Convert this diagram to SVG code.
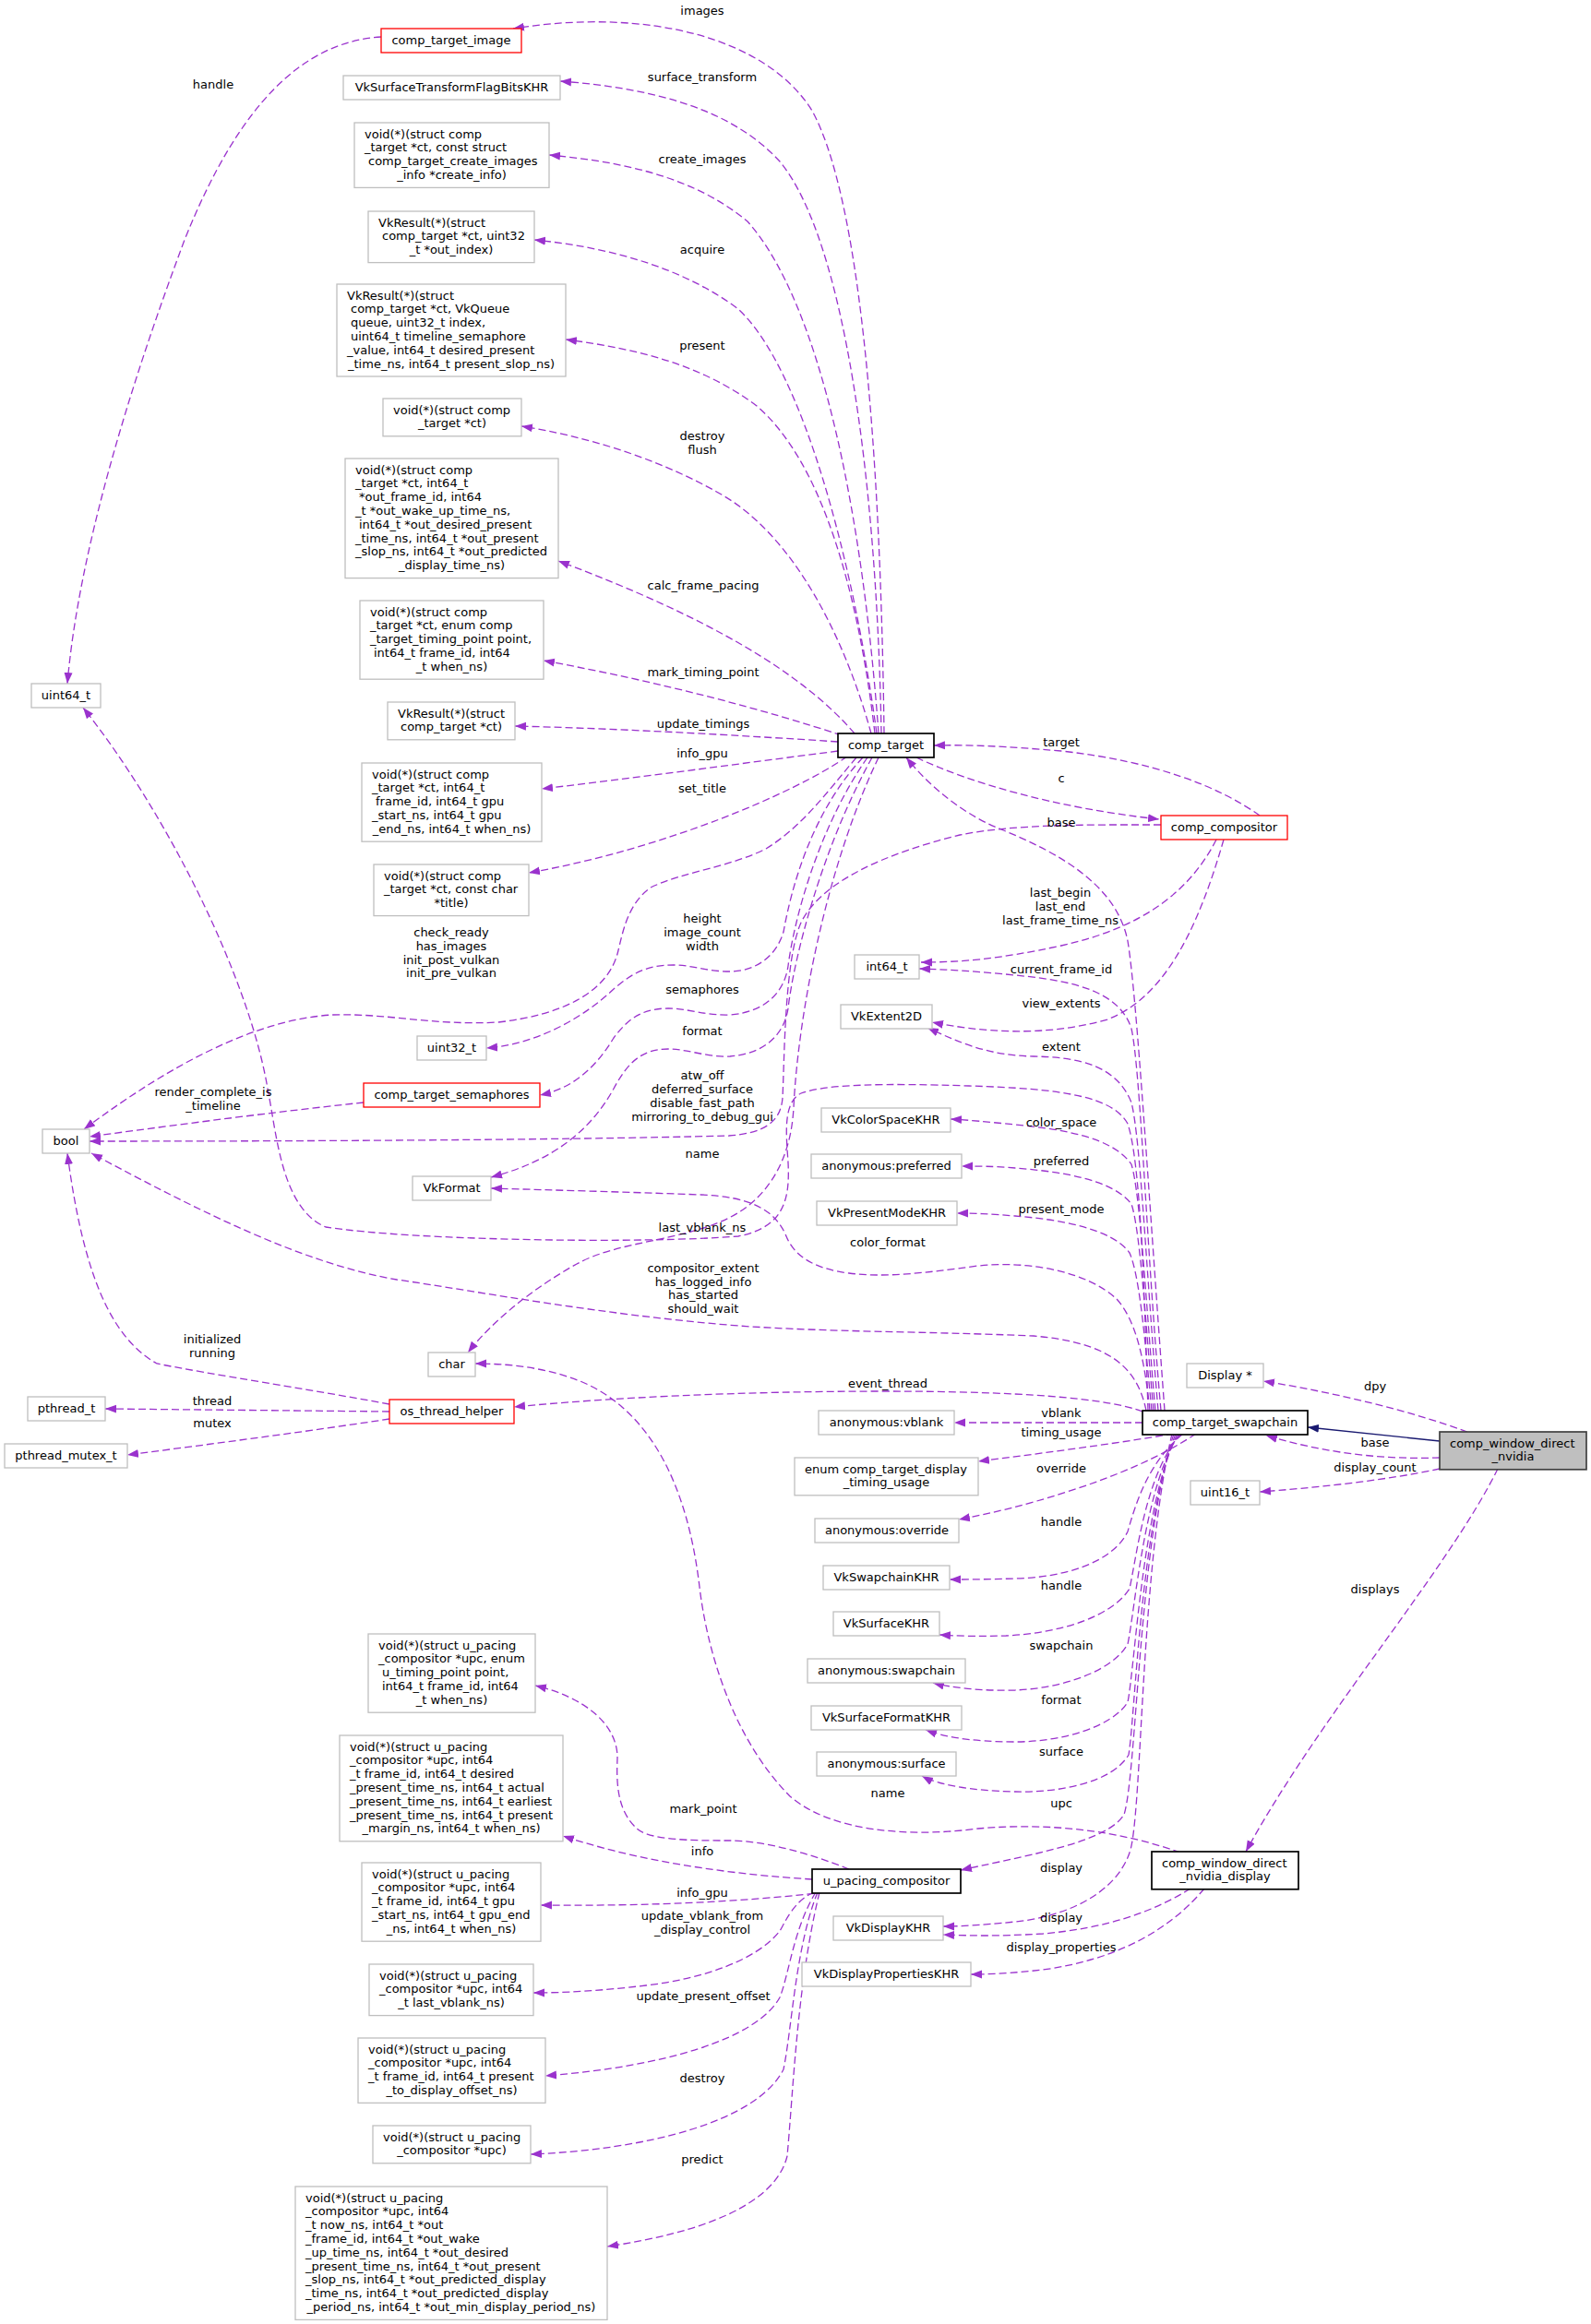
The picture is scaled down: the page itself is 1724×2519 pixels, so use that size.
<svg xmlns="http://www.w3.org/2000/svg" width="1724" height="2519" viewBox="0 0 1724 2519">
<style>
text{font-family:"DejaVu Sans",sans-serif;font-size:13px;fill:#000}
.m{text-anchor:middle}
.n rect{fill:#fff;stroke:#bfbfbf;stroke-width:1.3}
.r rect{fill:#fff;stroke:#ff0000;stroke-width:1.3}
.k rect{fill:#fff;stroke:#000;stroke-width:1.7}
.g rect{fill:#bfbfbf;stroke:#404040;stroke-width:1.7}
#edges path{fill:none;stroke:#9a32cd;stroke-width:1.3;stroke-dasharray:8,4;marker-end:url(#ah)}
#edges path.inh{stroke:#191970;stroke-dasharray:none;marker-end:url(#ahn)}
</style>
<defs>
<marker id="ah" markerWidth="13" markerHeight="10" refX="12" refY="5" orient="auto" markerUnits="userSpaceOnUse"><path d="M0,0.5 L12,5 L0,9.5 z" fill="#9a32cd"/></marker>
<marker id="ahn" markerWidth="13" markerHeight="10" refX="12" refY="5" orient="auto" markerUnits="userSpaceOnUse"><path d="M0,0.5 L12,5 L0,9.5 z" fill="#191970"/></marker>
</defs>
<rect x="0" y="0" width="1724" height="2519" fill="#fff"/>
<g id="edges">
<path d="M958,795 C955,560 940,230 880,120 C830,40 700,8 556,31"/>
<path d="M955,795 C950,520 915,260 845,175 C790,115 700,95 607,88"/>
<path d="M952,795 C935,560 890,330 810,240 C750,190 670,175 595,168"/>
<path d="M950,795 C925,610 870,400 800,335 C740,290 660,268 579,260"/>
<path d="M948,795 C930,640 890,500 820,440 C760,395 690,378 613,368"/>
<path d="M944,795 C915,690 860,580 780,535 C710,495 630,472 565,462"/>
<path d="M926,795 C870,730 770,670 605,608"/>
<path d="M912,797 C830,770 720,740 589,716"/>
<path d="M908,804 C800,797 680,790 558,787"/>
<path d="M908,814 C800,828 690,843 587,855"/>
<path d="M918,820 C860,860 720,920 573,946"/>
<path d="M928,821 C895,860 870,895 830,920 C790,940 740,945 705,962 C680,980 675,1010 670,1030 C660,1075 610,1100 540,1108 C470,1112 420,1098 360,1100 C280,1105 190,1150 91,1224"/>
<path d="M935,821 C880,880 858,960 849,1010 C840,1040 815,1053 791,1053 C765,1053 750,1046 730,1046 C700,1046 685,1055 665,1072 C630,1105 580,1132 527,1136"/>
<path d="M940,821 C885,900 860,1000 854,1047 C850,1075 830,1097 791,1100 C765,1101 745,1093 724,1093 C695,1093 680,1105 665,1125 C645,1158 620,1180 585,1187"/>
<path d="M945,821 C890,920 860,1040 854,1093 C850,1120 830,1142 791,1145 C765,1146 745,1137 724,1137 C695,1137 680,1152 665,1180 C640,1225 600,1258 532,1276"/>
<path d="M952,821 C895,940 865,1100 860,1200 C857,1260 830,1300 790,1320 C740,1345 670,1345 625,1370 C580,1395 535,1430 507,1466"/>
<path d="M1365,884 C1320,852 1250,825 1150,814 C1090,809 1050,807 1012,808"/>
<path d="M993,821 C1050,848 1140,875 1256,888"/>
<path d="M1258,894 C1180,894 1100,893 1040,905 C960,925 890,955 868,1000 C850,1040 850,1150 848,1190 C846,1215 830,1228 790,1231 C600,1236 300,1237 97,1237"/>
<path d="M1262,1529 C1245,1300 1232,1080 1222,1020 C1210,960 1150,925 1080,897 C1040,880 1005,850 982,821"/>
<path d="M1318,910 C1290,965 1240,1005 1150,1025 C1080,1040 1040,1043 998,1043"/>
<path d="M1326,910 C1300,1000 1265,1080 1200,1105 C1130,1125 1060,1118 1010,1108"/>
<path d="M1258,1529 C1242,1350 1236,1160 1226,1115 C1212,1070 1150,1062 1100,1057 C1060,1053 1030,1051 996,1050"/>
<path d="M1255,1529 C1242,1380 1236,1235 1226,1195 C1210,1155 1170,1146 1120,1145 C1070,1144 1040,1130 1005,1114"/>
<path d="M1252,1529 C1242,1420 1236,1295 1226,1262 C1205,1232 1150,1224 1100,1219 C1070,1216 1050,1214 1030,1213"/>
<path d="M1250,1529 C1242,1445 1236,1335 1226,1305 C1205,1278 1150,1270 1100,1266 C1075,1264 1060,1264 1042,1264"/>
<path d="M1248,1529 C1242,1470 1236,1385 1224,1358 C1205,1332 1150,1322 1100,1318 C1075,1316 1060,1315 1037,1315"/>
<path d="M1246,1529 C1240,1470 1230,1430 1210,1408 C1180,1380 1120,1366 1060,1372 C1000,1380 960,1385 920,1380 C880,1375 860,1360 852,1340 C840,1310 810,1297 760,1295 C680,1292 600,1290 532,1288"/>
<path d="M1244,1529 C1240,1400 1236,1260 1222,1218 C1205,1188 1150,1180 1050,1177 C960,1174 895,1175 868,1185 C848,1195 852,1230 854,1260 C856,1300 850,1330 800,1340 C700,1348 450,1345 353,1330 C305,1310 300,1230 290,1180 C270,1060 180,880 90,767"/>
<path d="M1242,1529 C1232,1480 1200,1455 1120,1448 C1000,1443 900,1444 800,1437 C650,1425 520,1400 430,1387 C330,1370 220,1315 99,1250"/>
<path d="M1238,1530 C1200,1515 1100,1508 960,1508 C800,1508 660,1515 557,1525"/>
<path d="M1238,1542 L1034,1542"/>
<path d="M1272,1554 C1200,1566 1130,1575 1060,1584"/>
<path d="M1296,1554 C1260,1578 1210,1600 1156,1617 C1110,1632 1075,1640 1039,1647"/>
<path d="M1282,1554 C1245,1585 1232,1625 1222,1660 C1205,1695 1150,1710 1100,1711 C1065,1712 1045,1712 1029,1712"/>
<path d="M1280,1554 C1242,1595 1232,1685 1224,1722 C1205,1752 1150,1770 1090,1773 C1055,1774 1035,1773 1018,1772"/>
<path d="M1278,1554 C1240,1610 1230,1745 1222,1782 C1205,1812 1150,1830 1100,1832 C1060,1833 1030,1829 1011,1824"/>
<path d="M1276,1554 C1238,1630 1230,1805 1222,1845 C1205,1872 1150,1888 1100,1888 C1050,1888 1022,1882 1003,1875"/>
<path d="M1274,1554 C1236,1650 1230,1862 1223,1902 C1205,1932 1150,1943 1100,1942 C1050,1941 1015,1934 999,1925"/>
<path d="M1272,1554 C1234,1670 1232,1922 1218,1967 C1200,1995 1130,2008 1041,2027"/>
<path d="M1270,1554 C1236,1700 1238,1955 1225,2005 C1210,2055 1150,2078 1100,2083 C1060,2087 1040,2088 1022,2088"/>
<path d="M1290,2047 C1250,2072 1200,2090 1130,2096 C1080,2099 1050,2098 1022,2097"/>
<path d="M1305,2047 C1265,2095 1205,2125 1130,2135 C1095,2139 1070,2140 1052,2140"/>
<path d="M1279,2008 C1215,1985 1140,1975 1060,1982 C984,1992 900,1985 856,1947 C790,1880 765,1780 758,1720 C745,1610 705,1530 631,1498 C590,1481 545,1478 515,1478"/>
<path d="M920,2026 C880,2010 830,1995 791,1995 C750,1995 700,1995 688,1980 C668,1960 668,1930 669,1905 C669,1870 635,1840 580,1827"/>
<path d="M880,2037 C800,2032 700,2020 610,1990"/>
<path d="M894,2051 C800,2062 700,2066 586,2065"/>
<path d="M882,2051 C860,2060 850,2085 845,2093 C820,2125 760,2145 700,2152 C650,2158 610,2160 578,2160"/>
<path d="M884,2051 C860,2090 855,2140 845,2165 C820,2210 720,2240 591,2250"/>
<path d="M886,2051 C862,2110 858,2200 849,2243 C820,2300 700,2330 575,2335"/>
<path d="M888,2051 C864,2150 860,2260 853,2337 C840,2390 760,2420 658,2435"/>
<path d="M422,1530 L114,1527"/>
<path d="M422,1538 C330,1552 230,1565 138,1577"/>
<path d="M422,1522 C330,1505 230,1490 170,1478 C120,1450 90,1380 73,1250"/>
<path d="M394,1195 C300,1205 200,1218 97,1232"/>
<path d="M413,40 C330,45 260,110 200,260 C140,420 85,600 73,741"/>
<path d="M1590,1552 C1530,1530 1450,1510 1369,1497"/>
<path d="M1560,1580 C1500,1582 1440,1576 1372,1556"/>
<path d="M1560,1592 C1500,1605 1420,1613 1365,1617"/>
<path d="M1623,1592 C1570,1700 1430,1860 1350,2007"/>
<path class="inh" d="M1560,1562 L1417,1547"/>
</g>
<g id="edge-labels">
<text class="m" x="231" y="96">handle</text>
<text class="m" x="761" y="16">images</text>
<text class="m" x="761" y="88">surface_transform</text>
<text class="m" x="761" y="177">create_images</text>
<text class="m" x="761" y="275">acquire</text>
<text class="m" x="761" y="379">present</text>
<text class="m" x="761" y="477">destroy</text>
<text class="m" x="761" y="492">flush</text>
<text class="m" x="762" y="639">calc_frame_pacing</text>
<text class="m" x="762" y="733">mark_timing_point</text>
<text class="m" x="762" y="789">update_timings</text>
<text class="m" x="761" y="821">info_gpu</text>
<text class="m" x="761" y="859">set_title</text>
<text class="m" x="1150" y="809">target</text>
<text class="m" x="1150" y="848">c</text>
<text class="m" x="1150" y="896">base</text>
<text class="m" x="1149" y="972">last_begin</text>
<text class="m" x="1149" y="987">last_end</text>
<text class="m" x="1149" y="1002">last_frame_time_ns</text>
<text class="m" x="761" y="1000">height</text>
<text class="m" x="761" y="1015">image_count</text>
<text class="m" x="761" y="1030">width</text>
<text class="m" x="489" y="1015">check_ready</text>
<text class="m" x="489" y="1030">has_images</text>
<text class="m" x="489" y="1045">init_post_vulkan</text>
<text class="m" x="489" y="1059">init_pre_vulkan</text>
<text class="m" x="1150" y="1055">current_frame_id</text>
<text class="m" x="761" y="1077">semaphores</text>
<text class="m" x="1150" y="1092">view_extents</text>
<text class="m" x="761" y="1122">format</text>
<text class="m" x="1150" y="1139">extent</text>
<text class="m" x="761" y="1170">atw_off</text>
<text class="m" x="761" y="1185">deferred_surface</text>
<text class="m" x="761" y="1200">disable_fast_path</text>
<text class="m" x="761" y="1215">mirroring_to_debug_gui</text>
<text class="m" x="231" y="1188">render_complete_is</text>
<text class="m" x="231" y="1203">_timeline</text>
<text class="m" x="1150" y="1221">color_space</text>
<text class="m" x="761" y="1255">name</text>
<text class="m" x="1150" y="1263">preferred</text>
<text class="m" x="1150" y="1315">present_mode</text>
<text class="m" x="761" y="1335">last_vblank_ns</text>
<text class="m" x="962" y="1351">color_format</text>
<text class="m" x="762" y="1379">compositor_extent</text>
<text class="m" x="762" y="1394">has_logged_info</text>
<text class="m" x="762" y="1408">has_started</text>
<text class="m" x="762" y="1423">should_wait</text>
<text class="m" x="230" y="1456">initialized</text>
<text class="m" x="230" y="1471">running</text>
<text class="m" x="962" y="1504">event_thread</text>
<text class="m" x="1490" y="1507">dpy</text>
<text class="m" x="230" y="1523">thread</text>
<text class="m" x="1150" y="1536">vblank</text>
<text class="m" x="230" y="1547">mutex</text>
<text class="m" x="1150" y="1557">timing_usage</text>
<text class="m" x="1490" y="1568">base</text>
<text class="m" x="1490" y="1595">display_count</text>
<text class="m" x="1150" y="1596">override</text>
<text class="m" x="1150" y="1654">handle</text>
<text class="m" x="1150" y="1723">handle</text>
<text class="m" x="1490" y="1727">displays</text>
<text class="m" x="1150" y="1788">swapchain</text>
<text class="m" x="1150" y="1847">format</text>
<text class="m" x="1150" y="1903">surface</text>
<text class="m" x="962" y="1948">name</text>
<text class="m" x="1150" y="1959">upc</text>
<text class="m" x="762" y="1965">mark_point</text>
<text class="m" x="761" y="2011">info</text>
<text class="m" x="1150" y="2029">display</text>
<text class="m" x="761" y="2056">info_gpu</text>
<text class="m" x="761" y="2081">update_vblank_from</text>
<text class="m" x="761" y="2096">_display_control</text>
<text class="m" x="1150" y="2083">display</text>
<text class="m" x="1150" y="2115">display_properties</text>
<text class="m" x="762" y="2168">update_present_offset</text>
<text class="m" x="761" y="2257">destroy</text>
<text class="m" x="761" y="2345">predict</text>
</g>
<g id="n_comp_target_image" class="r"><rect x="413" y="31" width="152" height="26"/><text class="m" x="489" y="47.5">comp_target_image</text></g>
<g id="n_VkSurfaceTransformFlagBitsKHR" class="n"><rect x="372" y="82" width="235" height="26"/><text class="m" x="489.5" y="98.5">VkSurfaceTransformFlagBitsKHR</text></g>
<g id="n_fp_create_images" class="n"><rect x="384" y="133" width="211" height="70.4"/><text x="395" y="149.5">void(*)(struct comp</text><text x="395" y="164.3">_target *ct, const struct</text><text x="399" y="179.1">comp_target_create_images</text><text class="m" x="489.5" y="193.9">_info *create_info)</text></g>
<g id="n_fp_acquire" class="n"><rect x="399" y="229" width="180" height="55.6"/><text x="410" y="245.5">VkResult(*)(struct</text><text x="414" y="260.3">comp_target *ct, uint32</text><text class="m" x="489" y="275.1">_t *out_index)</text></g>
<g id="n_fp_present" class="n"><rect x="365" y="308" width="248" height="100"/><text x="376" y="324.5">VkResult(*)(struct</text><text x="380" y="339.3">comp_target *ct, VkQueue</text><text x="380" y="354.1">queue, uint32_t index,</text><text x="380" y="368.9">uint64_t timeline_semaphore</text><text x="376" y="383.7">_value, int64_t desired_present</text><text class="m" x="489" y="398.5">_time_ns, int64_t present_slop_ns)</text></g>
<g id="n_fp_destroy" class="n"><rect x="415" y="432" width="150" height="40.8"/><text x="426" y="448.5">void(*)(struct comp</text><text class="m" x="490" y="463.3">_target *ct)</text></g>
<g id="n_fp_calc_frame_pacing" class="n"><rect x="374" y="497" width="231" height="129.6"/><text x="385" y="513.5">void(*)(struct comp</text><text x="385" y="528.3">_target *ct, int64_t</text><text x="389" y="543.1">*out_frame_id, int64</text><text x="385" y="557.9">_t *out_wake_up_time_ns,</text><text x="389" y="572.7">int64_t *out_desired_present</text><text x="385" y="587.5">_time_ns, int64_t *out_present</text><text x="385" y="602.3">_slop_ns, int64_t *out_predicted</text><text class="m" x="489.5" y="617.1">_display_time_ns)</text></g>
<g id="n_fp_mark_timing_point" class="n"><rect x="390" y="651" width="199" height="85.2"/><text x="401" y="667.5">void(*)(struct comp</text><text x="401" y="682.3">_target *ct, enum comp</text><text x="401" y="697.1">_target_timing_point point,</text><text x="405" y="711.9">int64_t frame_id, int64</text><text class="m" x="489.5" y="726.7">_t when_ns)</text></g>
<g id="n_fp_update_timings" class="n"><rect x="420" y="761" width="138" height="40.8"/><text x="431" y="777.5">VkResult(*)(struct</text><text class="m" x="489" y="792.3">comp_target *ct)</text></g>
<g id="n_fp_info_gpu" class="n"><rect x="392" y="827" width="195" height="85.2"/><text x="403" y="843.5">void(*)(struct comp</text><text x="403" y="858.3">_target *ct, int64_t</text><text x="407" y="873.1">frame_id, int64_t gpu</text><text x="403" y="887.9">_start_ns, int64_t gpu</text><text class="m" x="489.5" y="902.7">_end_ns, int64_t when_ns)</text></g>
<g id="n_fp_set_title" class="n"><rect x="405" y="937" width="168" height="55.6"/><text x="416" y="953.5">void(*)(struct comp</text><text x="416" y="968.3">_target *ct, const char</text><text class="m" x="489" y="983.1">*title)</text></g>
<g id="n_uint64_t" class="n"><rect x="34" y="741" width="75" height="26"/><text class="m" x="71.5" y="757.5">uint64_t</text></g>
<g id="n_comp_target" class="k"><rect x="908" y="795" width="104" height="26"/><text class="m" x="960" y="811.5">comp_target</text></g>
<g id="n_comp_compositor" class="r"><rect x="1258" y="884" width="137" height="26"/><text class="m" x="1326.5" y="900.5">comp_compositor</text></g>
<g id="n_int64_t" class="n"><rect x="926" y="1035" width="70" height="26"/><text class="m" x="961" y="1051.5">int64_t</text></g>
<g id="n_VkExtent2D" class="n"><rect x="911" y="1089" width="99" height="26"/><text class="m" x="960.5" y="1105.5">VkExtent2D</text></g>
<g id="n_uint32_t" class="n"><rect x="452" y="1123" width="75" height="26"/><text class="m" x="489.5" y="1139.5">uint32_t</text></g>
<g id="n_comp_target_semaphores" class="r"><rect x="394" y="1174" width="191" height="26"/><text class="m" x="489.5" y="1190.5">comp_target_semaphores</text></g>
<g id="n_bool" class="n"><rect x="46" y="1224" width="51" height="26"/><text class="m" x="71.5" y="1240.5">bool</text></g>
<g id="n_VkColorSpaceKHR" class="n"><rect x="890" y="1201" width="140" height="26"/><text class="m" x="960" y="1217.5">VkColorSpaceKHR</text></g>
<g id="n_anonymous_preferred" class="n"><rect x="879" y="1251" width="163" height="26"/><text class="m" x="960.5" y="1267.5">anonymous:preferred</text></g>
<g id="n_VkFormat" class="n"><rect x="447" y="1275" width="85" height="26"/><text class="m" x="489.5" y="1291.5">VkFormat</text></g>
<g id="n_VkPresentModeKHR" class="n"><rect x="885" y="1302" width="152" height="26"/><text class="m" x="961" y="1318.5">VkPresentModeKHR</text></g>
<g id="n_char" class="n"><rect x="464" y="1466" width="51" height="26"/><text class="m" x="489.5" y="1482.5">char</text></g>
<g id="n_Display" class="n"><rect x="1286" y="1478" width="83" height="26"/><text class="m" x="1327.5" y="1494.5">Display *</text></g>
<g id="n_pthread_t" class="n"><rect x="30" y="1514" width="84" height="26"/><text class="m" x="72" y="1530.5">pthread_t</text></g>
<g id="n_os_thread_helper" class="r"><rect x="422" y="1517" width="135" height="26"/><text class="m" x="489.5" y="1533.5">os_thread_helper</text></g>
<g id="n_anonymous_vblank" class="n"><rect x="887" y="1529" width="147" height="26"/><text class="m" x="960.5" y="1545.5">anonymous:vblank</text></g>
<g id="n_comp_target_swapchain" class="k"><rect x="1238" y="1529" width="179" height="26"/><text class="m" x="1327.5" y="1545.5">comp_target_swapchain</text></g>
<g id="n_comp_window_direct_nvidia" class="g"><rect x="1560" y="1552" width="159" height="40.8"/><text x="1571" y="1568.5">comp_window_direct</text><text class="m" x="1639.5" y="1583.3">_nvidia</text></g>
<g id="n_pthread_mutex_t" class="n"><rect x="5" y="1565" width="133" height="26"/><text class="m" x="71.5" y="1581.5">pthread_mutex_t</text></g>
<g id="n_timing_usage_enum" class="n"><rect x="861" y="1580" width="199" height="40.8"/><text x="872" y="1596.5">enum comp_target_display</text><text class="m" x="960.5" y="1611.3">_timing_usage</text></g>
<g id="n_uint16_t" class="n"><rect x="1290" y="1605" width="75" height="26"/><text class="m" x="1327.5" y="1621.5">uint16_t</text></g>
<g id="n_anonymous_override" class="n"><rect x="883" y="1646" width="156" height="26"/><text class="m" x="961" y="1662.5">anonymous:override</text></g>
<g id="n_VkSwapchainKHR" class="n"><rect x="892" y="1697" width="137" height="26"/><text class="m" x="960.5" y="1713.5">VkSwapchainKHR</text></g>
<g id="n_VkSurfaceKHR" class="n"><rect x="903" y="1747" width="115" height="26"/><text class="m" x="960.5" y="1763.5">VkSurfaceKHR</text></g>
<g id="n_anonymous_swapchain" class="n"><rect x="875" y="1798" width="171" height="26"/><text class="m" x="960.5" y="1814.5">anonymous:swapchain</text></g>
<g id="n_VkSurfaceFormatKHR" class="n"><rect x="879" y="1849" width="163" height="26"/><text class="m" x="960.5" y="1865.5">VkSurfaceFormatKHR</text></g>
<g id="n_anonymous_surface" class="n"><rect x="885" y="1899" width="151" height="26"/><text class="m" x="960.5" y="1915.5">anonymous:surface</text></g>
<g id="n_up_mark_point" class="n"><rect x="399" y="1771" width="181" height="85.2"/><text x="410" y="1787.5">void(*)(struct u_pacing</text><text x="410" y="1802.3">_compositor *upc, enum</text><text x="414" y="1817.1">u_timing_point point,</text><text x="414" y="1831.9">int64_t frame_id, int64</text><text class="m" x="489.5" y="1846.7">_t when_ns)</text></g>
<g id="n_up_info" class="n"><rect x="368" y="1881" width="242" height="114.8"/><text x="379" y="1897.5">void(*)(struct u_pacing</text><text x="379" y="1912.3">_compositor *upc, int64</text><text x="379" y="1927.1">_t frame_id, int64_t desired</text><text x="379" y="1941.9">_present_time_ns, int64_t actual</text><text x="379" y="1956.7">_present_time_ns, int64_t earliest</text><text x="379" y="1971.5">_present_time_ns, int64_t present</text><text class="m" x="489" y="1986.3">_margin_ns, int64_t when_ns)</text></g>
<g id="n_u_pacing_compositor" class="k"><rect x="880" y="2026" width="161" height="26"/><text class="m" x="960.5" y="2042.5">u_pacing_compositor</text></g>
<g id="n_comp_window_direct_nvidia_display" class="k"><rect x="1248" y="2007" width="159" height="40.8"/><text x="1259" y="2023.5">comp_window_direct</text><text class="m" x="1327.5" y="2038.3">_nvidia_display</text></g>
<g id="n_up_info_gpu" class="n"><rect x="392" y="2019" width="194" height="85.2"/><text x="403" y="2035.5">void(*)(struct u_pacing</text><text x="403" y="2050.3">_compositor *upc, int64</text><text x="403" y="2065.1">_t frame_id, int64_t gpu</text><text x="403" y="2079.9">_start_ns, int64_t gpu_end</text><text class="m" x="489" y="2094.7">_ns, int64_t when_ns)</text></g>
<g id="n_VkDisplayKHR" class="n"><rect x="903" y="2077" width="119" height="26"/><text class="m" x="962.5" y="2093.5">VkDisplayKHR</text></g>
<g id="n_up_update_vblank" class="n"><rect x="400" y="2129" width="178" height="55.6"/><text x="411" y="2145.5">void(*)(struct u_pacing</text><text x="411" y="2160.3">_compositor *upc, int64</text><text class="m" x="489" y="2175.1">_t last_vblank_ns)</text></g>
<g id="n_VkDisplayPropertiesKHR" class="n"><rect x="869" y="2127" width="183" height="26"/><text class="m" x="960.5" y="2143.5">VkDisplayPropertiesKHR</text></g>
<g id="n_up_update_present_offset" class="n"><rect x="388" y="2209" width="203" height="70.4"/><text x="399" y="2225.5">void(*)(struct u_pacing</text><text x="399" y="2240.3">_compositor *upc, int64</text><text x="399" y="2255.1">_t frame_id, int64_t present</text><text class="m" x="489.5" y="2269.9">_to_display_offset_ns)</text></g>
<g id="n_up_destroy" class="n"><rect x="404" y="2304" width="171" height="40.8"/><text x="415" y="2320.5">void(*)(struct u_pacing</text><text class="m" x="489.5" y="2335.3">_compositor *upc)</text></g>
<g id="n_up_predict" class="n"><rect x="320" y="2370" width="338" height="144.4"/><text x="331" y="2386.5">void(*)(struct u_pacing</text><text x="331" y="2401.3">_compositor *upc, int64</text><text x="331" y="2416.1">_t now_ns, int64_t *out</text><text x="331" y="2430.9">_frame_id, int64_t *out_wake</text><text x="331" y="2445.7">_up_time_ns, int64_t *out_desired</text><text x="331" y="2460.5">_present_time_ns, int64_t *out_present</text><text x="331" y="2475.3">_slop_ns, int64_t *out_predicted_display</text><text x="331" y="2490.1">_time_ns, int64_t *out_predicted_display</text><text class="m" x="489" y="2504.9">_period_ns, int64_t *out_min_display_period_ns)</text></g>
</svg>
